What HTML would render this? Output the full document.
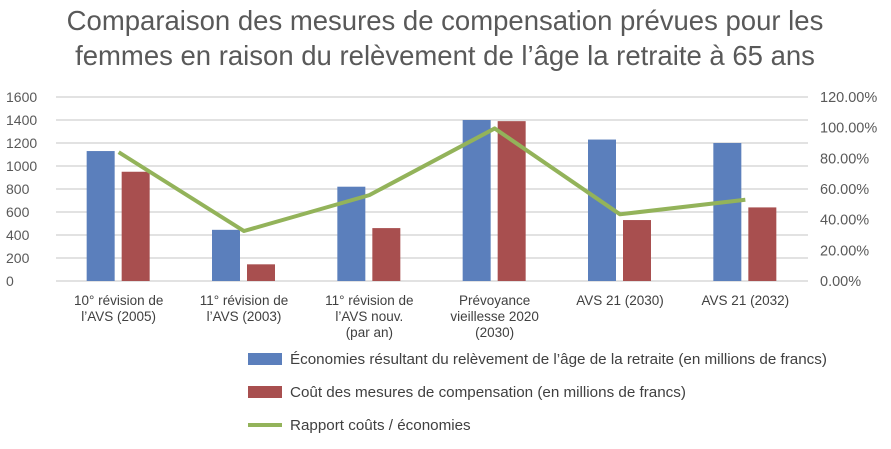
<!DOCTYPE html>
<html><head><meta charset="utf-8">
<style>
body{margin:0;background:#fff;width:891px;height:444px;overflow:hidden;font-family:"Liberation Sans",sans-serif}
</style></head>
<body>
<svg id="chart" width="891" height="444" xmlns="http://www.w3.org/2000/svg" font-family="Liberation Sans, sans-serif">
<text x="445" y="30" text-anchor="middle" font-size="27.5" fill="#595959">Comparaison des mesures de compensation prévues pour les</text>
<text x="445" y="65" text-anchor="middle" font-size="27.5" fill="#595959">femmes en raison du relèvement de l’âge la retraite à 65 ans</text>
<g id="grid"></g><g id="bars"></g><g id="line"></g><g id="labels"></g>
<g>
<rect x="248" y="353" width="34" height="12" fill="#5b7fbc"/>
<text x="290" y="364" font-size="15.2" fill="#404040">Économies résultant du relèvement de l’âge de la retraite (en millions de francs)</text>
<rect x="248" y="386" width="34" height="12" fill="#a84f4f"/>
<text x="290" y="397" font-size="15.2" fill="#404040">Coût des mesures de compensation (en millions de francs)</text>
<line x1="248" y1="425" x2="282" y2="425" stroke="#93b35a" stroke-width="4"/>
<text x="290" y="430" font-size="15.2" fill="#404040">Rapport coûts / économies</text>
</g>
</svg>
<script>
const categories=[["10° révision de","l’AVS (2005)"],["11° révision de","l’AVS (2003)"],["11° révision de","l’AVS nouv.","(par an)"],["Prévoyance","vieillesse 2020","(2030)"],["AVS 21 (2030)"],["AVS 21 (2032)"]];
const economies=[1130,445,820,1400,1230,1200];
const couts=[950,145,460,1390,530,640];
const rapport=[84,32.6,56,99.5,43.5,53];
const leftTicks=[0,200,400,600,800,1000,1200,1400,1600];
const rightTicks=["0.00%","20.00%","40.00%","60.00%","80.00%","100.00%","120.00%"];
const NS="http://www.w3.org/2000/svg";
const X0=56,X1=808,Y0=281,Y1=97;
const band=(X1-X0)/categories.length;
const yL=v=>Y0-(v/1600)*(Y0-Y1);
const yR=v=>Y0-(v/120)*(Y0-Y1);
const cx=i=>X0+band*(i+0.5);
function mk(tag,attrs,parent){const e=document.createElementNS(NS,tag);for(const k in attrs)e.setAttribute(k,attrs[k]);document.getElementById(parent).appendChild(e);return e;}
leftTicks.forEach((t,i)=>{
  const l=mk('line',{x1:X0,x2:X1,y1:yL(t),y2:yL(t),stroke:'#d9d9d9','stroke-width':1.5},'grid');
  
  
  const tx=mk('text',{x:6,y:yL(t)+5,'font-size':14,fill:'#595959'},'labels');tx.textContent=t;
  
  
});
rightTicks.forEach((t,i)=>{
  const tx=mk('text',{x:820,y:yR(i*20)+5,'font-size':14.5,fill:'#595959'},'labels');tx.textContent=t;
  
  
});
categories.forEach((c,i)=>{
  const b=mk('rect',{x:cx(i)-32,y:yL(economies[i]),width:28,height:Y0-yL(economies[i]),fill:'#5b7fbc'},'bars');
  
  
  const r=mk('rect',{x:cx(i)+3,y:yL(couts[i]),width:28,height:Y0-yL(couts[i]),fill:'#a84f4f'},'bars');
  
  
  c.forEach((s,j)=>{
    const t=mk('text',{x:cx(i),y:305+j*16,'text-anchor':'middle','font-size':13.5,fill:'#404040'},'labels');t.textContent=s;
    
    
  });
});
const pl=mk('polyline',{points:rapport.map((v,i)=>cx(i)+','+yR(v)).join(' '),fill:'none',stroke:'#93b35a','stroke-width':4,'stroke-linejoin':'round'},'line');


</script>
</body></html>
